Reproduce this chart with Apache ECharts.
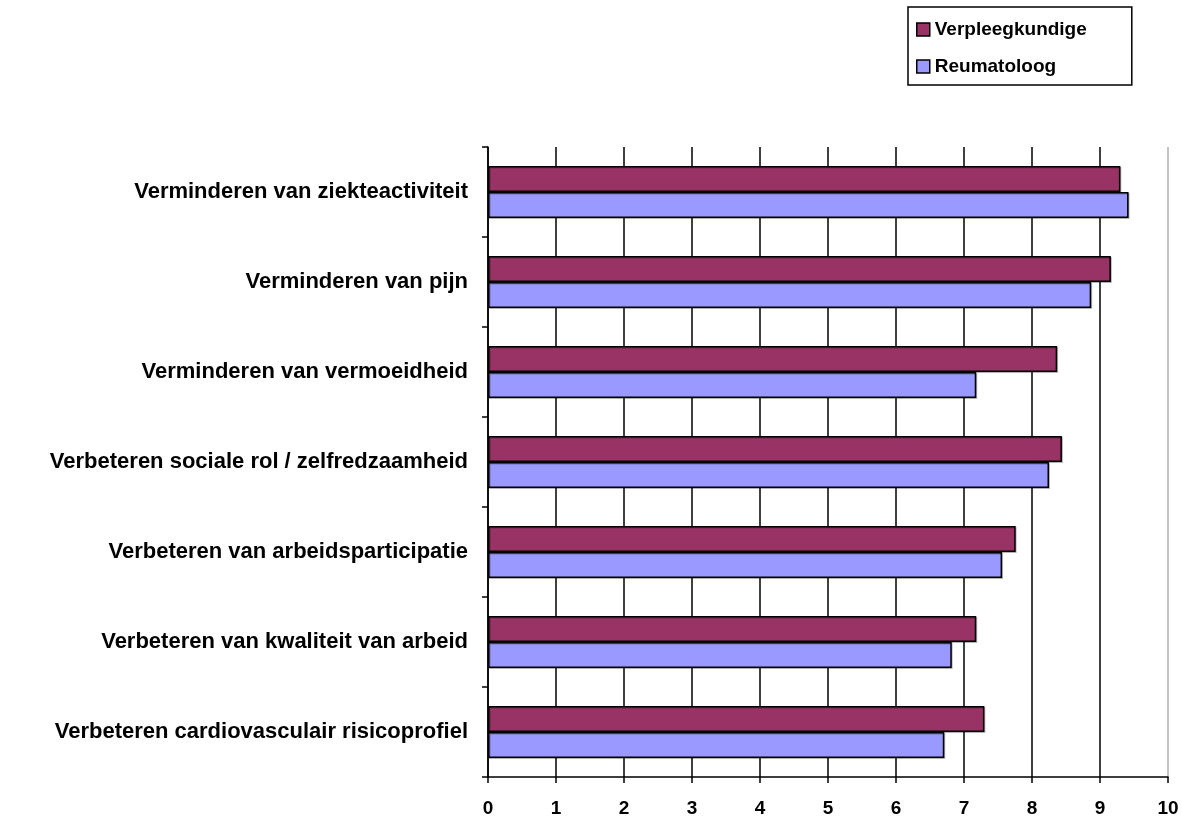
<!DOCTYPE html>
<html>
<head>
<meta charset="utf-8">
<script src="https://cdn.jsdelivr.net/npm/echarts@6/dist/echarts.min.js"></script>
<style>
  html, body { margin: 0; padding: 0; background: #fff; }
  #chart { width: 1182px; height: 821px; }
</style>
</head>
<body>
<div id="chart"></div>
<script>
// Categories top to bottom
const categories = [
  "Verminderen van ziekteactiviteit",
  "Verminderen van pijn",
  "Verminderen van vermoeidheid",
  "Verbeteren sociale rol / zelfredzaamheid",
  "Verbeteren van arbeidsparticipatie",
  "Verbeteren van kwaliteit van arbeid",
  "Verbeteren cardiovasculair risicoprofiel",
];
const verpleegkundige = [9.30, 9.16, 8.37, 8.44, 7.76, 7.18, 7.30];
const reumatoloog = [9.42, 8.87, 7.18, 8.25, 7.56, 6.82, 6.71];

const chart = echarts.init(document.getElementById("chart"));

const fontFamily = "Liberation Sans, Arial, sans-serif";

// grid lines black, the last one (at 10) is the light plot border
const splitColors = ["#000", "#000", "#000", "#000", "#000", "#000", "#000", "#000", "#000", "#000", "#b0b0b0"];

const barStyle = (color) => ({
  color: color,
  borderColor: "#000",
  borderWidth: 1.5,
  shadowColor: "rgba(0,0,0,0.25)",
  shadowOffsetX: 1,
  shadowOffsetY: 1,
});

chart.setOption({
  animation: false,
  grid: { left: 488, right: 14, top: 147, bottom: 44 },
  legend: {
    orient: "vertical",
    left: 908,
    top: 7,
    padding: [13, 45, 9, 8],
    itemGap: 18,
    itemWidth: 13,
    itemHeight: 13,
    borderColor: "#000",
    borderWidth: 1.5,
    icon: "rect",
    itemStyle: { borderColor: "#000", borderWidth: 1.5 },
    textStyle: { fontFamily, fontWeight: "bold", fontSize: 19, color: "#000" },
    data: ["Verpleegkundige", "Reumatoloog"],
  },
  xAxis: {
    type: "value",
    min: 0,
    max: 10,
    interval: 1,
    axisLine: { show: true, lineStyle: { color: "#000", width: 1.5 } },
    axisTick: { show: true, length: 6, lineStyle: { color: "#000", width: 1.5 } },
    axisLabel: { fontFamily, fontWeight: "bold", fontSize: 19, color: "#000", margin: 22 },
    splitLine: { show: true, lineStyle: { color: splitColors, width: 1.5 } },
  },
  yAxis: {
    type: "category",
    inverse: true,
    data: categories,
    axisLine: { show: true, lineStyle: { color: "#000", width: 1.5 } },
    axisTick: { show: true, length: 6, lineStyle: { color: "#000", width: 1.5 } },
    axisLabel: { fontFamily, fontWeight: "bold", fontSize: 22, color: "#000", margin: 20 },
  },
  series: [
    {
      name: "Verpleegkundige",
      type: "bar",
      data: verpleegkundige,
      barWidth: 26,
      barGap: "0%",
      itemStyle: barStyle("#993366"),
    },
    {
      name: "Reumatoloog",
      type: "bar",
      data: reumatoloog,
      barWidth: 26,
      barGap: "0%",
      itemStyle: barStyle("#9999ff"),
    },
  ],
});
</script>
</body>
</html>
